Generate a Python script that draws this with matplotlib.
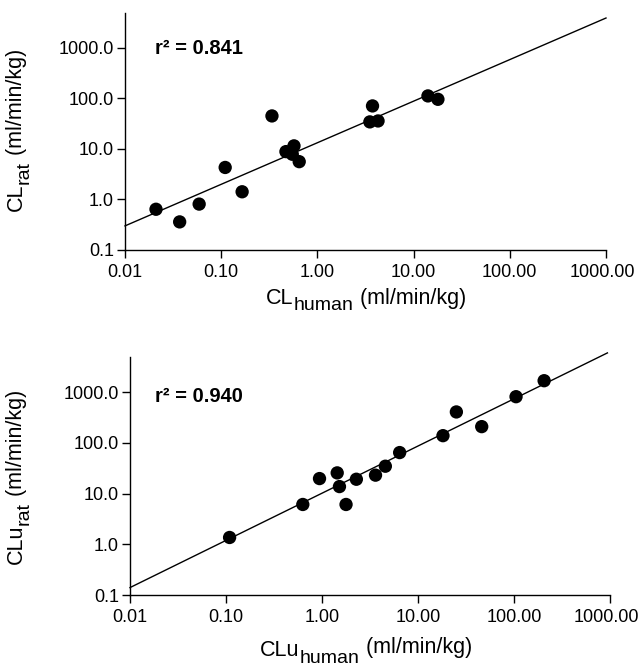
import numpy as np
import matplotlib
matplotlib.use("Agg")
import matplotlib.pyplot as plt
from matplotlib.text import Annotation
from matplotlib.ticker import FixedLocator, FixedFormatter, NullLocator
from matplotlib.transforms import ScaledTranslation

plt.rcParams['font.family'] = ['Liberation Sans', 'DejaVu Sans']

# ---------------- data ----------------
x_ticks = [0.01, 0.1, 1, 10, 100, 1000]
x_tick_labels = ['0.01', '0.10', '1.00', '10.00', '100.00', '1000.00']
y_ticks = [0.1, 1, 10, 100, 1000]
y_tick_labels = ['0.1', '1.0', '10.0', '100.0', '1000.0']

cl_human = [0.021, 0.037, 0.059, 0.11, 0.165, 0.337, 0.471, 0.571, 0.548, 0.647,
            3.74, 3.51, 4.27, 14.1, 17.9]
cl_rat = [0.64, 0.36, 0.81, 4.3, 1.42, 45, 8.85, 11.5, 7.85, 5.6,
          71, 34.3, 35.8, 112, 96]

clu_human = [0.109, 0.631, 0.942, 1.44, 1.52, 1.78, 2.28, 3.61, 4.57, 6.44,
             18.2, 25.1, 46.1, 105, 206]
clu_rat = [1.36, 6.08, 19.7, 25.5, 13.7, 6.08, 19.1, 23, 34.5, 64.1,
           138, 405, 208, 809, 1671]

top_fit_x = [0.01, 1000]
top_fit_y = [0.30, 3900]
bot_fit_x = [0.01, 940]
bot_fit_y = [0.14, 5900]

top_r2 = 'r² = 0.841'
bot_r2 = 'r² = 0.940'

# ---------------- figure ----------------
W, H = 641, 667
fig = plt.figure(figsize=(W / 100, H / 100), dpi=100)


def px_axes(left, right, top, bottom):
    return fig.add_axes([left / W, 1 - bottom / H, (right - left) / W, (bottom - top) / H])


ax1 = px_axes(125, 606, 13, 250)
ax2 = px_axes(130, 610, 357, 595)

TICK_FS = 13
LAB_FS = 15.5
SUB_FS = 14
R2_FS = 14.5

for ax, xs, ys, fx, fy, r2, r2pos in [
        (ax1, cl_human, cl_rat, top_fit_x, top_fit_y, top_r2, (0.062, 0.852)),
        (ax2, clu_human, clu_rat, bot_fit_x, bot_fit_y, bot_r2, (0.052, 0.832))]:
    ax.set_xscale('log')
    ax.set_yscale('log')
    ax.set_xlim(0.01, 1000)
    ax.set_ylim(0.1, 4900)
    ax.plot(fx, fy, color='black', lw=1.0, clip_on=False, zorder=2)
    ax.scatter(xs, ys, s=92, color='black', edgecolors='none', zorder=3, clip_on=False)
    ax.xaxis.set_major_locator(FixedLocator(x_ticks))
    ax.xaxis.set_major_formatter(FixedFormatter(x_tick_labels))
    ax.yaxis.set_major_locator(FixedLocator(y_ticks))
    ax.yaxis.set_major_formatter(FixedFormatter(y_tick_labels))
    ax.xaxis.set_minor_locator(NullLocator())
    ax.yaxis.set_minor_locator(NullLocator())
    ax.tick_params(direction='out', length=6, width=1.0, labelsize=TICK_FS,
                   colors='black')
    ax.tick_params(axis='x', pad=4)
    ax.tick_params(axis='y', pad=2)
    ax.spines['top'].set_visible(False)
    ax.spines['right'].set_visible(False)
    for s in ('left', 'bottom'):
        ax.spines[s].set_linewidth(1.0)
    ax.patch.set_alpha(0)
    ax.text(r2pos[0], r2pos[1], r2, transform=ax.transAxes, fontsize=R2_FS,
            fontweight='bold', ha='left', va='center')
    # keep the last x tick label inside the figure edge
    last = ax.xaxis.get_major_ticks()[-1].label1
    last.set_transform(last.get_transform() + ScaledTranslation(-4 / 100, 0, fig.dpi_scale_trans))


def compound(parts, cx, cy, rotation=0):
    """parts: list of (text, size, baseline shift in points). cx, cy in pixels."""
    t0 = fig.text(cx / W, 1 - cy / H, parts[0][0], fontsize=parts[0][1],
                  rotation=rotation,
                  ha='left' if rotation == 0 else 'right', va='bottom')
    arts = [t0]
    prev = t0
    for text, size, shift in parts[1:]:
        if rotation == 0:
            a = Annotation(text, xy=(1, 0), xycoords=(prev, t0), xytext=(0, shift),
                           textcoords='offset points', ha='left', va='bottom',
                           fontsize=size)
        else:
            a = Annotation(text, xy=(1, 1), xycoords=(t0, prev), xytext=(-shift, 0),
                           textcoords='offset points', ha='right', va='bottom',
                           rotation=90, fontsize=size)
        fig.add_artist(a)
        arts.append(a)
        prev = a
    fig.canvas.draw()
    r = fig.canvas.get_renderer()
    bbs = [a.get_window_extent(r) for a in arts]
    x0 = min(b.x0 for b in bbs); x1 = max(b.x1 for b in bbs)
    y0 = min(b.y0 for b in bbs); y1 = max(b.y1 for b in bbs)
    dx = cx - (x0 + x1) / 2
    dy = (H - cy) - (y0 + y1) / 2
    px, py = t0.get_position()
    t0.set_position((px + dx / W, py + dy / H))


compound([('CL', LAB_FS, 0), ('human', SUB_FS, -4), (' (ml/min/kg)', LAB_FS, 0)], 366, 301)
compound([('CLu', LAB_FS, 0), ('human', SUB_FS, -4), (' (ml/min/kg)', LAB_FS, 2.5)], 366, 652)
compound([('CL', LAB_FS, 0), ('rat', SUB_FS, -4), (' (ml/min/kg)', LAB_FS, 0)], 19, 130, rotation=90)
compound([('CLu', LAB_FS, 0), ('rat', SUB_FS, -4), (' (ml/min/kg)', LAB_FS, 0)], 19, 477, rotation=90)

fig.savefig('out.png', dpi=100, facecolor='white')
